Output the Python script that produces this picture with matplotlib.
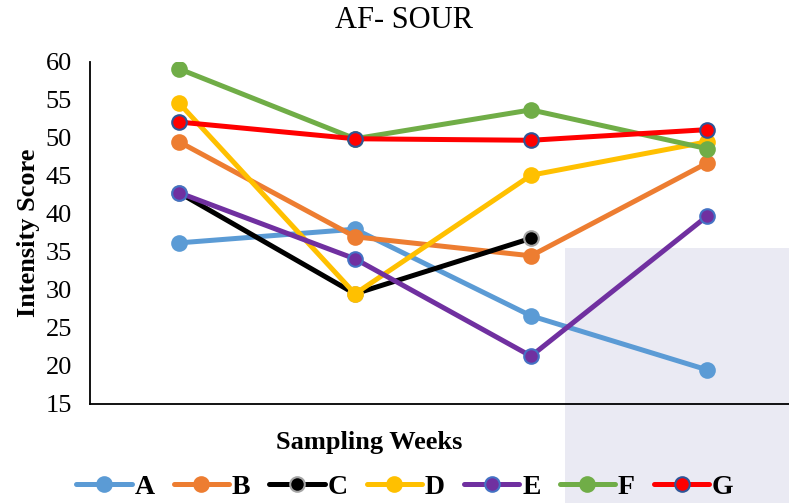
import matplotlib
matplotlib.use("Agg")
import matplotlib.pyplot as plt
from matplotlib.patches import Rectangle

plt.rcParams["font.family"] = ["Liberation Serif", "DejaVu Serif"]

weeks = [1, 2, 3, 4]
series_names = ["A", "B", "C", "D", "E", "F", "G"]
A = [36.2, 38.0, 26.6, 19.5]
B = [49.5, 37.0, 34.5, 46.7]
C = [42.8, 29.5, 36.8]
D = [54.6, 29.5, 45.1, 49.5]
E = [42.8, 34.1, 21.3, 39.7]
F = [59.1, 49.9, 53.7, 48.6]
G = [52.1, 49.9, 49.7, 51.1]
values = [A, B, C, D, E, F, G]

colors = ["#5B9BD5", "#ED7D31", "#000000", "#FFC000", "#7030A0", "#70AD47", "#FF0000"]
edges = ["#5B9BD5", "#ED7D31", "#A5A5A5", "#FFC000", "#4472C4", "#70AD47", "#2F5597"]

fig = plt.figure(figsize=(7.89, 5.03), dpi=100)
# faint watermark block, bottom right
fig.patches.append(Rectangle((565 / 789, 0), 1, 1 - 248 / 503, transform=fig.transFigure,
                             fc="#eaeaf3", ec="none", zorder=-1))

ax = fig.add_axes([90 / 789, 1 - 404 / 503, 1 - 90 / 789, (404 - 62) / 503])
ax.patch.set_alpha(0)

for name, vals, c, ec in zip(series_names, values, colors, edges):
    ax.plot(weeks[:len(vals)], vals, color=c, lw=3.6, marker="o", ms=10.5,
            mfc=c, mec=ec, mew=1.5, label=name, solid_capstyle="round")

ax.set_xlim(0.494, 4.466)
ax.set_ylim(15, 60)
ax.set_yticks(range(15, 61, 5))
ax.set_xticks([])
ax.tick_params(axis="y", length=0, labelsize=19, pad=13)
for s in ["top", "right"]:
    ax.spines[s].set_visible(False)
for s in ["left", "bottom"]:
    ax.spines[s].set_linewidth(1.3)

ax.set_ylabel("Intensity Score", fontsize=19, fontweight="bold", labelpad=4)
fig.text(369 / 789, 1 - 442 / 503, "Sampling Weeks", ha="center", va="center",
         fontsize=19, fontweight="bold")
fig.text(404 / 789, 1 - 20 / 503, "AF- SOUR", ha="center", va="center", fontsize=22)

leg = fig.legend(loc="center", bbox_to_anchor=(405 / 789, 1 - 487 / 503), ncol=7, frameon=False,
                 prop={"weight": "bold", "size": 20}, handlelength=2.0, columnspacing=0.68,
                 handletextpad=0.1, borderaxespad=0)

fig.savefig("out.png", dpi=100)
